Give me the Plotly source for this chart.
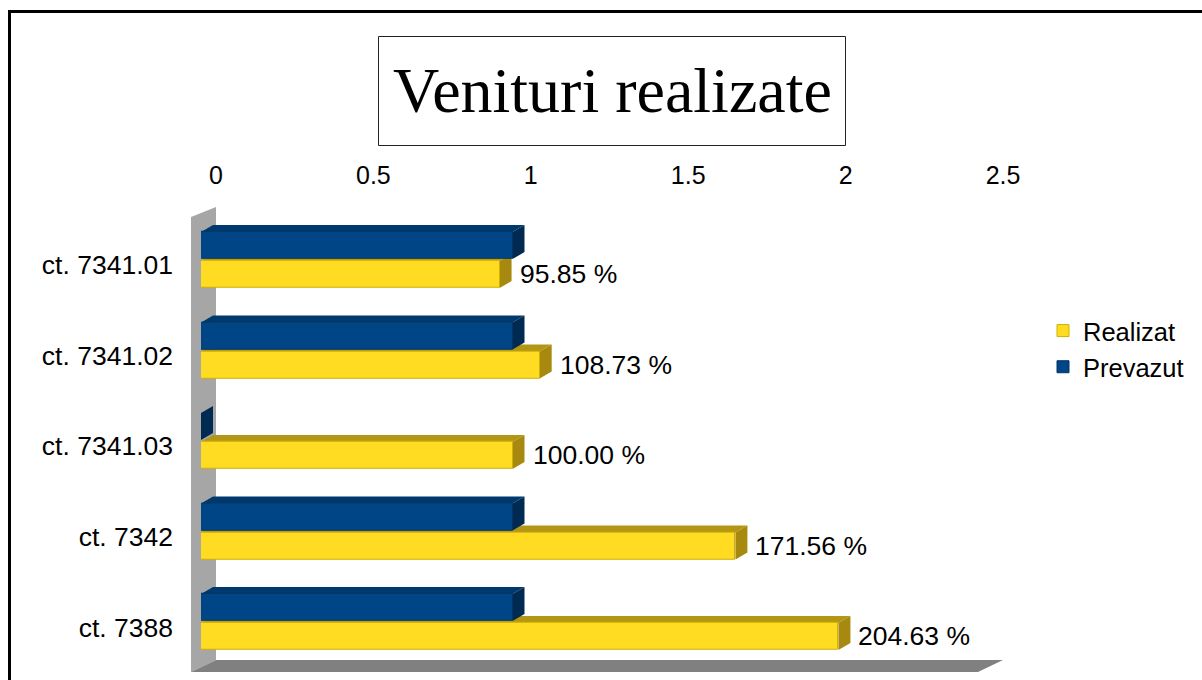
import plotly.graph_objects as go

categories = ["ct. 7341.01", "ct. 7341.02", "ct. 7341.03", "ct. 7342", "ct. 7388"]
realizat = [0.9585, 1.0873, 1.0000, 1.7156, 2.0463]
prevazut = [1.0, 1.0, 0.0, 1.0, 1.0]
x_ticks = [0, 0.5, 1, 1.5, 2, 2.5]
x_ticktext = ["0", "0.5", "1", "1.5", "2", "2.5"]
title_text = "Venituri realizate"

W, H = 1202, 680
def px(x):
    return x / W
def py(y):
    return 1 - y / H

FONT = "Liberation Sans, Arial, sans-serif"
BLUE, BLUE_SIDE, BLUE_TOP = "#004586", "#002a52", "#00396e"
YEL, YEL_SIDE, YEL_TOP = "#ffdc22", "#a8890f", "#b39616"

BW = 0.30
OFF_P = -0.31
OFF_R = 0.01
DX = 12 / 311.5
DY = 7 / 90.5

yidx = list(range(len(categories)))

fig = go.Figure()
fig.add_trace(go.Scatter(x=[None], y=[None], xaxis="x", yaxis="y", showlegend=False,
                         hoverinfo="skip", mode="markers"))
fig.add_trace(go.Bar(
    name="Prevazut", orientation="h", x=prevazut, y=yidx, width=BW, offset=OFF_P,
    marker=dict(color=BLUE, line=dict(color="#003566", width=1)),
    xaxis="x2", yaxis="y2", legendrank=2, hoverinfo="skip"))
fig.add_trace(go.Bar(
    name="Realizat", orientation="h", x=realizat, y=yidx, width=BW, offset=OFF_R,
    marker=dict(color=YEL, line=dict(color="#d0b000", width=1)),
    xaxis="x2", yaxis="y2", legendrank=1, hoverinfo="skip"))

shapes = []
shapes.append(dict(type="path", xref="paper", yref="paper", layer="below",
                   path=f"M {px(191)},{py(217)} L {px(216)},{py(207)} L {px(216)},{py(660)} L {px(191)},{py(672)} Z",
                   fillcolor="#a6a6a6", line=dict(width=0)))
shapes.append(dict(type="path", xref="paper", yref="paper", layer="below",
                   path=f"M {px(216)},{py(660)} L {px(1003)},{py(660)} L {px(978)},{py(672)} L {px(191)},{py(672)} Z",
                   fillcolor="#808080", line=dict(width=0)))

def faces(v, yc, off, side_col, top_col):
    t = yc + off
    b = yc + off + BW
    out = []
    out.append(dict(type="path", xref="x2", yref="y2", layer="below",
                    path=f"M 0,{t} L {DX},{t-DY} L {v+DX},{t-DY} L {v},{t} Z",
                    fillcolor=top_col, line=dict(width=0)))
    out.append(dict(type="path", xref="x2", yref="y2", layer="below",
                    path=f"M {v},{t} L {v+DX},{t-DY} L {v+DX},{b-DY} L {v},{b} Z",
                    fillcolor=side_col, line=dict(width=0)))
    return out

for i in yidx:
    shapes += faces(realizat[i], i, OFF_R, YEL_SIDE, YEL_TOP)
for i in yidx:
    shapes += faces(prevazut[i], i, OFF_P, BLUE_SIDE, BLUE_TOP)

shapes.append(dict(type="rect", xref="paper", yref="paper",
                   x0=px(378.5), x1=px(845.5), y0=py(145.5), y1=py(36.5),
                   line=dict(color="#222222", width=1)))
shapes.append(dict(type="rect", xref="paper", yref="paper",
                   x0=px(9.5), x1=1.05, y0=-0.05, y1=py(11.5),
                   line=dict(color="#000000", width=3)))

annotations = []
for i in yidx:
    annotations.append(dict(
        x=realizat[i], y=i + OFF_R + BW / 2, xref="x2", yref="y2",
        text=f"{realizat[i]*100:.2f} %", showarrow=False, xanchor="left", yanchor="middle",
        xshift=18, font=dict(family=FONT, size=26.5, color="#000000")))
annotations.append(dict(
    x=px(612), y=py(91), xref="paper", yref="paper", text=title_text, showarrow=False,
    xanchor="center", yanchor="middle",
    font=dict(family="Liberation Serif, Times New Roman, serif", size=64, color="#000000")))

fig.update_layout(
    width=W, height=H, margin=dict(l=0, r=0, t=0, b=0),
    paper_bgcolor="white", plot_bgcolor="rgba(0,0,0,0)", template="none",
    showlegend=True, bargap=0,
    font=dict(family=FONT, size=25, color="#000000"),
    xaxis=dict(domain=[px(216), px(1003)], range=[0, 2.5], side="top", anchor="free",
               position=py(189), tickvals=x_ticks, ticktext=x_ticktext, showgrid=False,
               showline=False, zeroline=False, ticks="", automargin=False,
               tickfont=dict(family=FONT, size=25, color="#000000")),
    yaxis=dict(domain=[py(672.6), py(219.6)], range=[4.5, -0.5], anchor="free",
               position=px(173), tickvals=yidx, ticktext=categories, showgrid=False,
               showline=False, zeroline=False, ticks="", automargin=False,
               tickfont=dict(family=FONT, size=26.5, color="#000000")),
    xaxis2=dict(domain=[px(201), px(201 + 2.5 * 311.5)], range=[0, 2.5], anchor="y2",
                visible=False, showgrid=False, zeroline=False),
    yaxis2=dict(domain=[py(667.25), py(214.75)], range=[4.5, -0.5], anchor="x2",
                visible=False, showgrid=False, zeroline=False),
    legend=dict(x=px(1043), y=py(349), xanchor="left", yanchor="middle",
                font=dict(family=FONT, size=25.5, color="#000000"),
                bgcolor="rgba(0,0,0,0)", itemwidth=30, tracegroupgap=0),
    shapes=shapes, annotations=annotations,
)

fig.write_html("out.html", config={"displayModeBar": False},
               post_script="document.body.style.margin='0';document.body.style.overflow='hidden';")
